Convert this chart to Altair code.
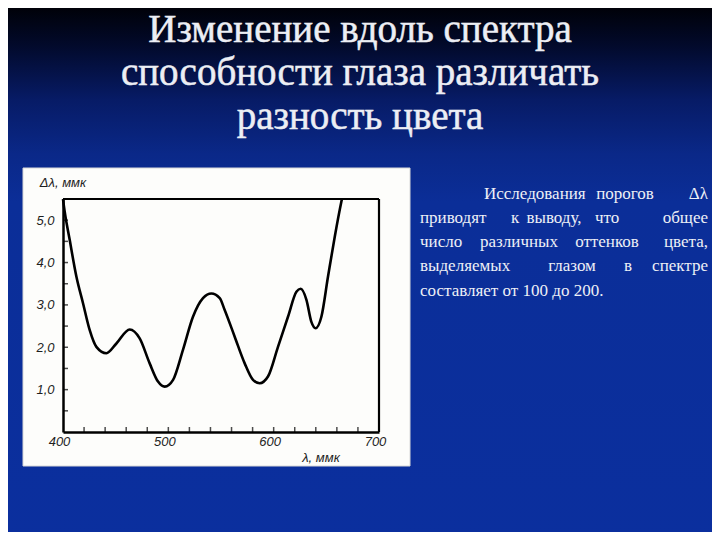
import altair as alt
import pandas as pd

# ---------------- data ----------------
WAVELENGTH = [400.0, 400.7, 406.4, 412.7, 419.0, 425.3, 431.7, 441.2, 450.7, 463.3,
              472.8, 482.3, 490.2, 496.6, 504.5, 513.9, 523.4, 532.9, 540.9, 548.8,
              553.5, 563.0, 572.5, 580.4, 586.7, 594.6, 604.1, 613.6, 621.6, 625.7,
              631.1, 635.8, 639.9, 645.3, 651.6, 658.0, 664.3, 664.8]
DELTA = [5.50, 5.36, 4.53, 3.67, 3.04, 2.41, 2.01, 1.86, 2.09, 2.42,
         2.21, 1.62, 1.19, 1.07, 1.23, 1.94, 2.72, 3.16, 3.27, 3.16,
         2.88, 2.25, 1.62, 1.23, 1.15, 1.31, 2.01, 2.72, 3.31, 3.38,
         3.12, 2.60, 2.45, 2.72, 3.67, 4.61, 5.44, 5.50]

X_DOMAIN = [400, 700]
Y_DOMAIN = [0, 5.5]
X_LABELS = [400, 500, 600, 700]
Y_LABELS = [1, 2, 3, 4, 5]
X_TICKS = [420, 440, 460, 480, 500, 520, 540, 560, 580, 600, 620, 640, 660, 680]
Y_TICKS = [0.5, 1.0, 1.5, 2.0, 2.5, 3.0, 3.5, 4.0, 4.5, 5.0]

TITLE_LINES = ["Изменение вдоль спектра",
               "способности глаза различать",
               "разность цвета"]
Y_TITLE = "Δλ, ммк"
X_TITLE = "λ, ммк"
BODY_WORDS = [
    ["Исследования", "порогов", "Δλ"],
    ["приводят", "к", "выводу,", "что", "общее"],
    ["число", "различных", "оттенков", "цвета,"],
    ["выделяемых", "глазом", "в", "спектре"],
    ["составляет от 100 до 200."],
]

# ---------------- layout (pixels relative to the plot area) ----------------
PW, PH = 316, 233
PAD = {"left": 55, "top": 191, "right": 333, "bottom": 100}
TITLE_X = 297
TITLE_BASELINES = [-157, -114, -70]
TITLE_FONT = "Liberation Serif"
BODY_FONT = "Liberation Serif"
BODY_BASELINES = [-0.5, 23.75, 48, 72.25, 96.5]
BODY_LEFT, BODY_RIGHT = 357, 645
BODY_POS = [
    [("left", 421), ("center", 562), ("right", BODY_RIGHT)],
    [("left", BODY_LEFT), ("center", 452), ("center", 491), ("center", 544), ("right", BODY_RIGHT)],
    [("left", BODY_LEFT), ("center", 456), ("center", 544), ("right", BODY_RIGHT)],
    [("left", BODY_LEFT), ("center", 509), ("center", 565), ("right", BODY_RIGHT)],
    [("left", BODY_LEFT)],
]

one = pd.DataFrame({"a": [0]})

# background gradient
bg = alt.Chart(one).mark_rect(
    color=alt.LinearGradient(
        gradient="linear",
        stops=[
            alt.GradientStop(color="#000004", offset=0.0),
            alt.GradientStop(color="#020a2c", offset=0.08),
            alt.GradientStop(color="#071b66", offset=0.18),
            alt.GradientStop(color="#0a2888", offset=0.28),
            alt.GradientStop(color="#0b2e98", offset=0.37),
            alt.GradientStop(color="#0b2f9e", offset=1.0),
        ],
        x1=0, x2=0, y1=0, y2=1,
    )
).encode(x=alt.value(-60), x2=alt.value(PW + PAD["right"] + 10),
         y=alt.value(-PAD["top"] - 5), y2=alt.value(PH + PAD["bottom"] + 10))

# white picture panel
panel = alt.Chart(one).mark_rect(color="#fdfdfb", stroke="#d8d8d8", strokeWidth=1).encode(
    x=alt.value(-40), x2=alt.value(347), y=alt.value(-31), y2=alt.value(267))

curve_df = pd.DataFrame({"wl": WAVELENGTH, "d": DELTA})
label_font = "Liberation Sans"
curve = alt.Chart(curve_df).mark_line(
    color="black", strokeWidth=2.6, interpolate="monotone"
).encode(
    x=alt.X("wl:Q", scale=alt.Scale(domain=X_DOMAIN, nice=False, zero=False),
            axis=alt.Axis(values=X_LABELS, title=None, ticks=False, grid=False,
                          domainColor="black", domainWidth=2.5, labelFont=label_font,
                          labelFontStyle="italic", labelFontSize=13, labelColor="#1e1e1e",
                          labelPadding=3, labelOffset=-4, labelFlush=False,
                          labelOverlap=False, zindex=1)),
    y=alt.Y("d:Q", scale=alt.Scale(domain=Y_DOMAIN, nice=False, zero=True),
            axis=alt.Axis(values=Y_LABELS, title=None, ticks=False, grid=False,
                          domainColor="black", domainWidth=2.5, labelFont=label_font,
                          labelFontStyle="italic", labelFontSize=13, labelColor="#1e1e1e",
                          labelPadding=9, labelFlush=False, labelOverlap=False,
                          labelExpr="replace(format(datum.value, '.1f'), '.', ',')",
                          zindex=1)),
)

xt = alt.Chart(pd.DataFrame({"t": X_TICKS, "b": [Y_DOMAIN[0]] * len(X_TICKS)})).mark_tick(
    orient="vertical", size=5, thickness=1.5, color="black", yOffset=-2.5
).encode(x=alt.X("t:Q", title=None), y=alt.Y("b:Q", title=None))

yt = alt.Chart(pd.DataFrame({"t": Y_TICKS, "b": [X_DOMAIN[0]] * len(Y_TICKS)})).mark_tick(
    orient="horizontal", size=5, thickness=1.5, color="black", xOffset=2.5
).encode(y=alt.Y("t:Q", title=None), x=alt.X("b:Q", title=None))

frame_top = alt.Chart(pd.DataFrame({"x1": [X_DOMAIN[0]], "x2": [X_DOMAIN[1]], "y": [Y_DOMAIN[1]]})).mark_rule(
    color="black", strokeWidth=2.2
).encode(x=alt.X("x1:Q", title=None), x2="x2:Q", y=alt.Y("y:Q", title=None))

frame_right = alt.Chart(pd.DataFrame({"x": [X_DOMAIN[1]], "y1": [Y_DOMAIN[0]], "y2": [Y_DOMAIN[1]]})).mark_rule(
    color="black", strokeWidth=2.2
).encode(x=alt.X("x:Q", title=None), y=alt.Y("y1:Q", title=None), y2="y2:Q")

layers = [bg, panel, curve, xt, yt, frame_top, frame_right]

# axis titles inside the picture
layers.append(alt.Chart(one).mark_text(
    text=Y_TITLE, font=label_font, fontStyle="italic", fontSize=13, color="#1e1e1e",
    align="center", baseline="middle").encode(x=alt.value(0), y=alt.value(-16)))
layers.append(alt.Chart(one).mark_text(
    text=X_TITLE, font=label_font, fontStyle="italic", fontSize=13, color="#1e1e1e",
    align="center", baseline="middle").encode(x=alt.value(258), y=alt.value(259)))

# slide title
for line, by in zip(TITLE_LINES, TITLE_BASELINES):
    layers.append(alt.Chart(one).mark_text(
        text=line, font=TITLE_FONT, fontSize=39, color="#eceef4",
        stroke="#eceef4", strokeWidth=0.5,
        align="center", baseline="alphabetic").encode(x=alt.value(TITLE_X), y=alt.value(by)))

# body text, justified word by word
for words, poss, by in zip(BODY_WORDS, BODY_POS, BODY_BASELINES):
    for w, (al, px) in zip(words, poss):
        layers.append(alt.Chart(one).mark_text(
            text=w, font=BODY_FONT, fontSize=17, color="#eef0f6",
            align=al, baseline="alphabetic").encode(x=alt.value(px), y=alt.value(by)))

chart = alt.layer(*layers).properties(
    width=PW, height=PH,
    autosize=alt.AutoSizeParams(type="none"),
    padding=PAD,
    background="#0b2f9e",
).configure_view(stroke=None)

chart.save("out.html", embed_options={"renderer": "svg", "actions": False})
